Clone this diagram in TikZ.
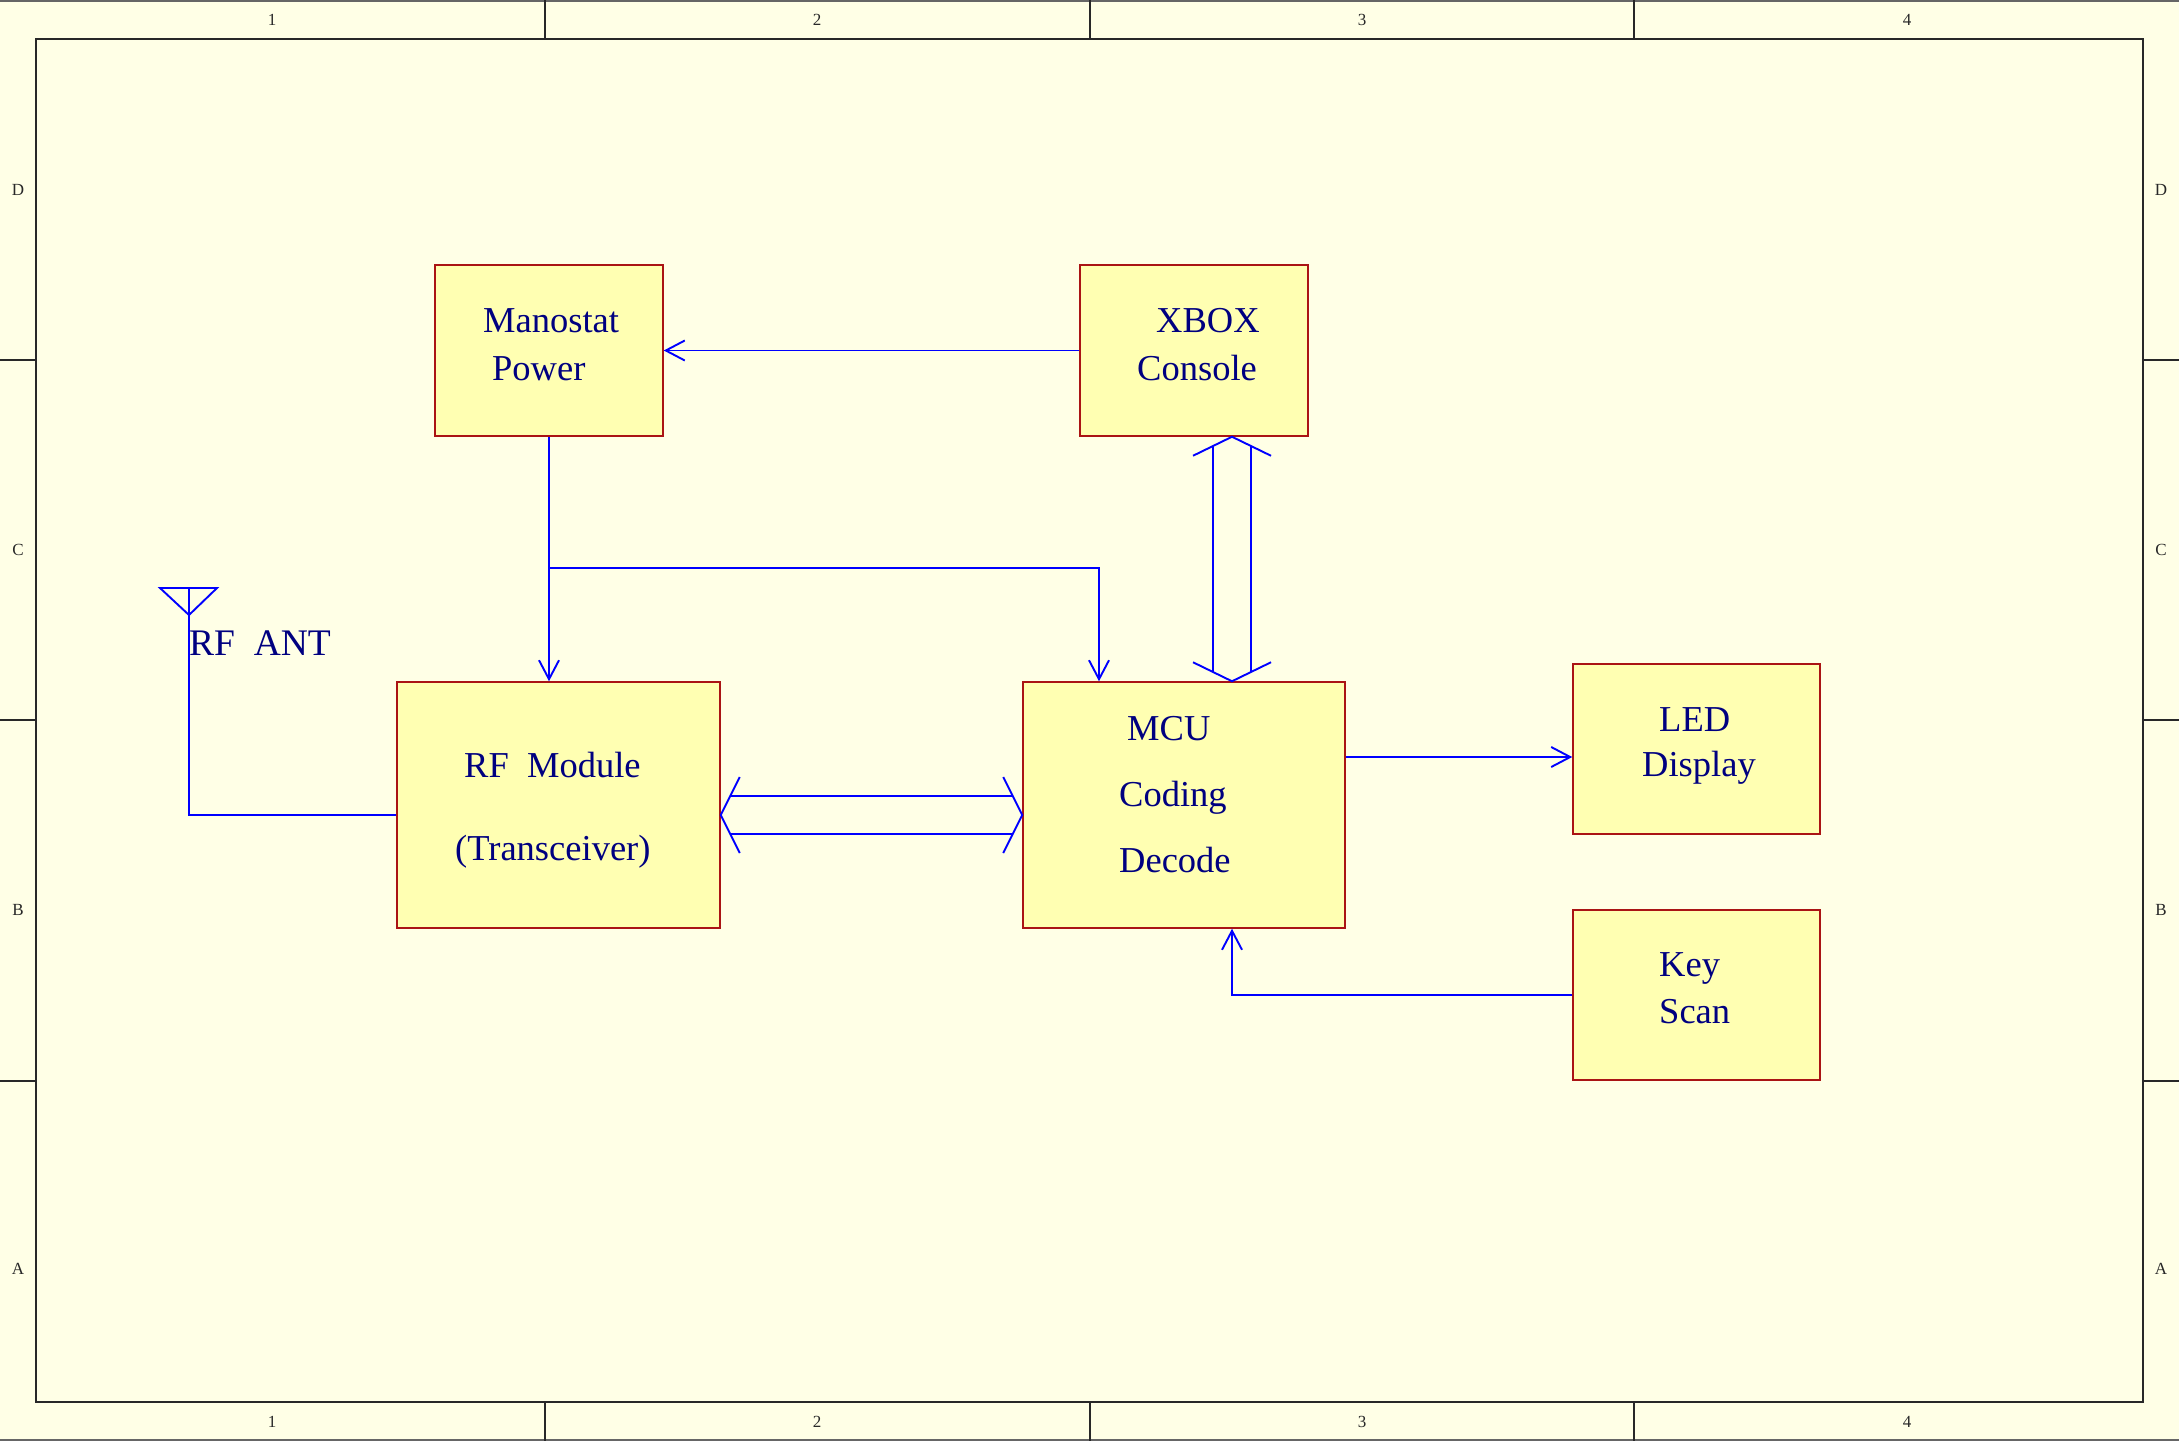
\documentclass[tikz,border=0pt]{standalone}
\usepackage{fontspec}
\setmainfont{Liberation Serif}
\usetikzlibrary{arrows.meta,calc}
\definecolor{bgc}{RGB}{255,255,230}
\definecolor{boxfill}{RGB}{255,255,178}
\definecolor{boxline}{RGB}{170,20,20}
\definecolor{wirec}{RGB}{0,0,255}
\definecolor{txtc}{RGB}{0,0,128}
\definecolor{framec}{RGB}{40,40,40}
\tikzset{
  box/.style={draw=boxline, fill=boxfill, line width=1.5pt, inner sep=0pt},
  lbl/.style={anchor=base west, inner sep=0pt, text=txtc, font=\fontsize{36.5}{40}\selectfont},
  zone/.style={inner sep=0pt, text=framec, font=\fontsize{17}{19}\selectfont},
  wire/.style={draw=wirec, line width=1.9pt},
  arr/.style={wire, -{Straight Barb[length=19pt,width=20pt]}},
  frameline/.style={draw=framec, line width=1.5pt}
}
\begin{document}
\begin{tikzpicture}[x=1pt,y=-1pt]
\useasboundingbox (0,0) rectangle (2179,1441);
\fill[bgc] (0,0) rectangle (2179,1441);
% outer border lines and inner frame
\draw[draw=gray!80!black, line width=2.5pt] (0,1) -- (2179,1);
\draw[draw=gray!80!black, line width=2.5pt] (0,1440) -- (2179,1440);
\draw[frameline] (36,39) rectangle (2143,1402);
% zone dividers
\foreach \x in {545,1090,1634} {
  \draw[frameline] (\x,0) -- (\x,39);
  \draw[frameline] (\x,1402) -- (\x,1441);
}
\foreach \y in {360,720,1081} {
  \draw[frameline] (0,\y) -- (36,\y);
  \draw[frameline] (2143,\y) -- (2179,\y);
}
\foreach \n/\x in {1/272,2/817,3/1362,4/1907} {
  \node[zone] (zt\n) at (\x,19.5) {\n};
  \node[zone] (zb\n) at (\x,1421.5) {\n};
}
\foreach \l/\y in {D/190,C/550,B/910,A/1269} {
  \node[zone] (zl\l) at (18,\y) {\l};
  \node[zone] (zr\l) at (2161,\y) {\l};
}
% boxes
\node[box, minimum width=228pt, minimum height=171pt] (mano) at (549,350.5) {};
\node[box, minimum width=228pt, minimum height=171pt] (xbox) at (1194,350.5) {};
\node[box, minimum width=323pt, minimum height=246pt] (rf) at (558.5,805) {};
\node[box, minimum width=322pt, minimum height=246pt] (mcu) at (1184,805) {};
\node[box, minimum width=247pt, minimum height=170pt] (led) at (1696.5,749) {};
\node[box, minimum width=247pt, minimum height=170pt] (key) at (1696.5,995) {};
% texts
\node[lbl] (t1) at (483,332.7) {Manostat};
\node[lbl] (t2) at (492,380) {Power};
\node[lbl] (t3) at (1156,332.7) {XBOX};
\node[lbl] (t4) at (1137,380) {Console};
\node[lbl] (t5) at (464,777.3) {RF\ \ Module};
\node[lbl] (t6) at (455,860.5) {(Transceiver)};
\node[lbl] (t7) at (1127,740) {MCU};
\node[lbl] (t8) at (1119,806.7) {Coding};
\node[lbl] (t9) at (1119,872.7) {Decode};
\node[lbl] (t10) at (1659,731) {LED};
\node[lbl] (t11) at (1642,776.7) {Display};
\node[lbl] (t12) at (1659,976.7) {Key};
\node[lbl] (t13) at (1659,1023.3) {Scan};
\node[lbl, font=\fontsize{37.5}{40}\selectfont] (t14) at (189,655) {RF\ \ ANT};
% helper coordinates
\coordinate (br) at (549,568);
\coordinate (mcux) at (1099,0);
\coordinate (busx) at (1232,0);
\coordinate (hy) at (0,815);
\coordinate (ly) at (0,757);
\coordinate (ant) at (189,588);
\coordinate (antbot) at (189,815);
% connectors
\draw[arr] (xbox.west) -- (mano.east);
\draw[arr] (mano.south) -- (mano.south |- rf.north);
\draw[arr] (br) -| (mcu.north -| mcux);
\draw[arr] (mcu.east |- ly) -- (led.west |- ly);
\draw[arr] (key.west) -| (mcu.south -| busx);
% double arrow XBOX <-> MCU
\coordinate (dt) at (xbox.south -| busx);
\coordinate (db) at (mcu.north -| busx);
\draw[wire, line join=miter] ($(dt)+(-39,19)$) -- (dt) -- ($(dt)+(39,19)$);
\draw[wire] ($(dt)+(-19,9.5)$) -- ($(db)+(-19,-9.5)$);
\draw[wire] ($(dt)+(19,9.5)$) -- ($(db)+(19,-9.5)$);
\draw[wire, line join=miter] ($(db)+(-39,-19)$) -- (db) -- ($(db)+(39,-19)$);
% double arrow RF <-> MCU
\coordinate (lt) at (rf.east |- hy);
\coordinate (rt) at (mcu.west |- hy);
\draw[wire, line join=miter] ($(lt)+(19,-38)$) -- (lt) -- ($(lt)+(19,38)$);
\draw[wire] ($(lt)+(9.5,-19)$) -- ($(rt)+(-9.5,-19)$);
\draw[wire] ($(lt)+(9.5,19)$) -- ($(rt)+(-9.5,19)$);
\draw[wire, line join=miter] ($(rt)+(-19,-38)$) -- (rt) -- ($(rt)+(-19,38)$);
% antenna
\draw[wire] ($(ant)+(-29,0)$) -- ($(ant)+(28,0)$) -- ($(ant)+(0,27)$) -- cycle;
\draw[wire] (ant) -- (antbot) -- (rf.west |- antbot);
\end{tikzpicture}
\end{document}
